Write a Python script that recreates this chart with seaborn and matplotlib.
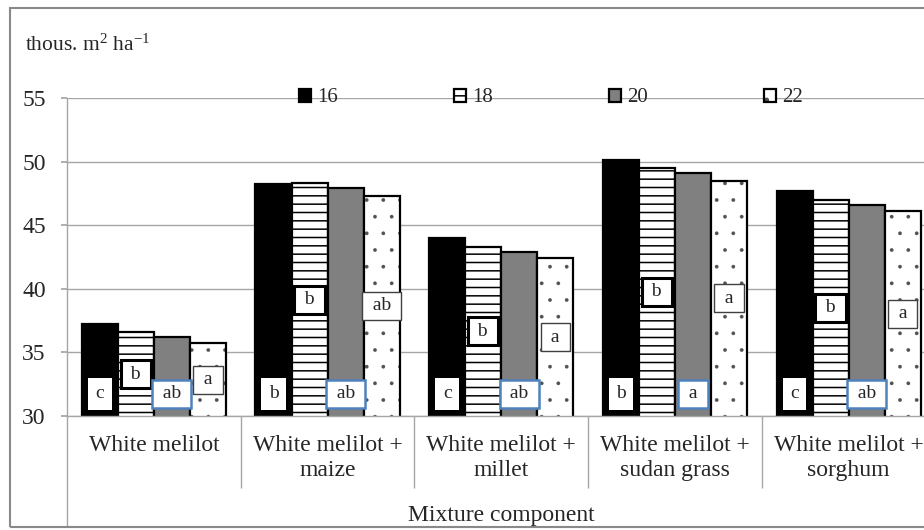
import matplotlib
matplotlib.use("Agg")
import matplotlib.pyplot as plt
import seaborn as sns
import pandas as pd
from matplotlib.colors import to_rgba
from matplotlib.patches import Patch, Rectangle
from matplotlib.lines import Line2D

# ---------------- data ----------------
categories = ["White melilot", "White melilot +\nmaize", "White melilot +\nmillet",
              "White melilot +\nsudan grass", "White melilot +\nsorghum"]
densities = ["16", "18", "20", "22"]
v16 = [37.2, 48.2, 44.0, 50.1, 47.7]
v18 = [36.6, 48.3, 43.3, 49.5, 47.0]
v20 = [36.2, 47.9, 42.9, 49.1, 46.6]
v22 = [35.7, 47.3, 42.4, 48.5, 46.1]
l16 = ["c", "b", "c", "b", "c"]
l18 = ["b", "b", "b", "b", "b"]
l20 = ["ab", "ab", "ab", "a", "ab"]
l22 = ["a", "ab", "a", "a", "a"]
yticks = [30, 35, 40, 45, 50, 55]
ylabel = r"thous. m$^2$ ha$^{-1}$"
xlabel = "Mixture component"

values = [v16, v18, v20, v22]
letters = [l16, l18, l20, l22]

rows = []
for d, vals in zip(densities, values):
    for c, v in zip(categories, vals):
        rows.append({"component": c, "density": d, "value": v})
df = pd.DataFrame(rows)

# ---------------- style ----------------
sns.set_theme(style="white")
plt.rcParams["font.family"] = ["Liberation Serif", "DejaVu Serif"]
plt.rcParams["mathtext.fontset"] = "custom"
plt.rcParams["mathtext.rm"] = "Liberation Serif"
plt.rcParams["mathtext.it"] = "Liberation Serif:italic"
plt.rcParams["mathtext.bf"] = "Liberation Serif:bold"
plt.rcParams["hatch.linewidth"] = 1.1
plt.rcParams["hatch.color"] = "black"

W, H = 924, 530
fig = plt.figure(figsize=(W / 100, H / 100), dpi=100)
fig.patch.set_facecolor("white")
ax = fig.add_axes([67 / W, 114 / H, 868.5 / W, 318 / H])

palette = {"16": "black", "18": "white", "20": "#808080", "22": "white"}
hatches = ["", "--", "", "."]


def style_dots(p):
    # small grey dots for the dotted pattern
    p._hatch_color = to_rgba("#505050")
    if hasattr(p, "set_hatch_linewidth"):
        p.set_hatch_linewidth(0.25)
    else:
        p._hatch_linewidth = 0.25


sns.barplot(data=df, x="component", y="value", hue="density",
            order=categories, hue_order=densities, palette=palette,
            saturation=1, width=0.83, errorbar=None, edgecolor="black",
            linewidth=1.6, legend=False, ax=ax, zorder=2)

for cont, h in zip(ax.containers, hatches):
    for bar in cont:
        bar.set_hatch(h)
        if h == ".":
            style_dots(bar)

ax.set_ylim(30, 55)
ax.set_xlim(-0.5, len(categories) - 0.5)
ax.set_yticks(yticks)
ax.yaxis.grid(True, color="#A6A6A6", lw=1)
ax.set_axisbelow(True)
for s in ["top", "right"]:
    ax.spines[s].set_visible(False)
ax.spines["left"].set_color("#A6A6A6")
ax.spines["bottom"].set_color("#A6A6A6")
ax.spines["left"].set_linewidth(1)
ax.spines["bottom"].set_linewidth(1)

ax.tick_params(axis="y", length=4.3, color="#A6A6A6", pad=11, labelsize=17, direction="out", left=True)
ax.tick_params(axis="x", which="major", length=0, pad=14, labelsize=17)
ax.set_xticks([i + 0.5 for i in range(len(categories) - 1)], minor=True)
ax.tick_params(axis="x", which="minor", length=52, color="#A6A6A6", width=1, direction="out", bottom=True)
for t in ax.get_xticklabels():
    t.set_linespacing(1.25)
ax.set_ylabel("")
ax.set_xlabel(xlabel, fontsize=17)
ax.xaxis.set_label_coords(0.5, (416 - 515) / 318)
ax.xaxis.label.set_va("center")

# extended left axis line through category label area
ax.add_line(Line2D([0, 0], [0, -111 / 318], transform=ax.transAxes, color="#A6A6A6",
                   lw=1, clip_on=False))

# letter labels
box_styles = [
    dict(ec="white", lw=0),
    dict(ec="black", lw=2.2),
    dict(ec="#4F81BD", lw=1.8),
    dict(ec="#404040", lw=1),
]
for i, (cont, labs) in enumerate(zip(ax.containers, letters)):
    for bar, lab in zip(cont, labs):
        x = bar.get_x() + bar.get_width() / 2
        if i in (0, 2):
            y = 31.75
        else:
            y = (30 + bar.get_height()) / 2
        txt = lab if i == 0 else f" {lab} "
        pad = 0.38 if i == 0 else 0.28
        ax.text(x, y, txt, ha="center", va="center", fontsize=14, zorder=5,
                bbox=dict(boxstyle=f"square,pad={pad}", fc="white", **box_styles[i]))

# legend
handles = [Patch(facecolor=palette[d], edgecolor="black", hatch=h, lw=1.6)
           for d, h in zip(densities, hatches)]
for hd in handles:
    if hd.get_hatch() == ".":
        style_dots(hd)
fig.legend(handles, densities, loc="center", bbox_to_anchor=(551 / W, 1 - 98 / H),
           ncol=4, frameon=False, handlelength=0.58, handleheight=0.58,
           handletextpad=0.3, columnspacing=5.57, fontsize=15, borderpad=0)

fig.text(25 / W, 1 - 45 / H, ylabel, ha="left", va="center", fontsize=15.5)

fig.patches.append(Rectangle((10 / W, 3 / H), 1.2, 519 / H, transform=fig.transFigure,
                             fill=False, ec="#898989", lw=1.5))

fig.savefig("out.png", dpi=100)
